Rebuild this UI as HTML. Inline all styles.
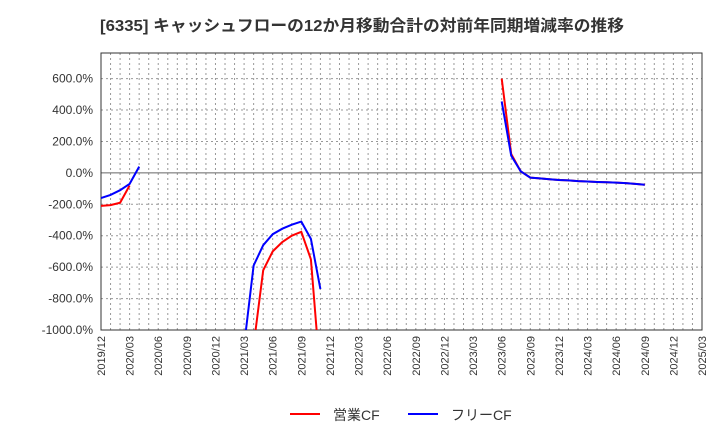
<!DOCTYPE html>
<html><head><meta charset="utf-8"><style>
body{margin:0;background:#fff;font-family:"Liberation Sans","Noto Sans CJK JP",sans-serif;}
</style></head><body>
<svg width="720" height="440" xmlns="http://www.w3.org/2000/svg">
<text x="100" y="31" font-size="16" font-weight="bold" fill="#333" textLength="524" lengthAdjust="spacingAndGlyphs" font-family="Liberation Sans, Noto Sans CJK JP, sans-serif">[6335]  キャッシュフローの12か月移動合計の対前年同期増減率の推移</text>
<g id="grid"></g><g id="axes"></g><g id="series"></g>
<g>
<line x1="290" y1="414" x2="320" y2="414" stroke="#f00" stroke-width="2"/>
<text x="333" y="420" font-size="14" fill="#333" font-family="Liberation Sans, Noto Sans CJK JP, sans-serif">営業CF</text>
<line x1="408" y1="414" x2="438" y2="414" stroke="#00f" stroke-width="2"/>
<text x="451" y="420" font-size="14" fill="#333" font-family="Liberation Sans, Noto Sans CJK JP, sans-serif">フリーCF</text>
</g>
</svg>
<script>
const yTicks=[600,400,200,0,-200,-400,-600,-800,-1000];
const xLabels=["2019/12","2020/03","2020/06","2020/09","2020/12","2021/03","2021/06","2021/09","2021/12","2022/03","2022/06","2022/09","2022/12","2023/03","2023/06","2023/09","2023/12","2024/03","2024/06","2024/09","2024/12","2025/03"];
// month index from 2019/12, value (%); null = gap
const opMonths=[0,1,2,3,null,16,17,18,19,20,21,22,23,null,42,43,44,45,46,47,48,49,50,51,52,53,54,55,56,57];
const opVals=[-210,-205,-190,-80,null,-1100,-620,-500,-440,-400,-375,-550,-1300,null,600,120,10,-30,-35,-40,-45,-48,-52,-55,-58,-60,-62,-65,-70,-75];
const fcfMonths=[0,1,2,3,4,null,15,16,17,18,19,20,21,22,23,null,42,43,44,45,46,47,48,49,50,51,52,53,54,55,56,57];
const fcfVals=[-160,-140,-110,-70,40,null,-1100,-590,-460,-390,-355,-330,-310,-420,-740,null,455,110,10,-30,-35,-40,-45,-48,-52,-55,-58,-60,-62,-65,-70,-75];
const L=101,R=702,T=53,B=330;
const ymin=-1000,ymax=763;
const sy=v=>B-(v-ymin)/(ymax-ymin)*(B-T);
const sx=m=>L+m*(R-L)/63;
const NS="http://www.w3.org/2000/svg";
function mk(tag,at,parent){const e=document.createElementNS(NS,tag);for(const k in at)e.setAttribute(k,at[k]);parent.appendChild(e);return e;}
const grid=document.getElementById('grid'),axes=document.getElementById('axes'),ser=document.getElementById('series');
for(let m=1;m<63;m++){const l=mk('line',{x1:sx(m),x2:sx(m),y1:T,y2:B,stroke:'#999','stroke-dasharray':'2,3','stroke-width':1},grid);

}
yTicks.forEach(v=>{const y=sy(v);
const g=mk('line',{x1:L,x2:R,y1:y,y2:y,stroke:v===0?'#666':'#999','stroke-dasharray':v===0?'none':'2,3','stroke-width':1},grid);


const t=mk('text',{x:L-8,y:y+4,'text-anchor':'end','font-size':12,fill:'#333','font-family':'Liberation Sans, sans-serif'},axes);
t.textContent=v.toFixed(1)+'%';

});
xLabels.forEach((s,i)=>{const x=sx(i*3);
const t=mk('text',{x:x+4,y:B+6,'text-anchor':'end','font-size':11,fill:'#333','font-family':'Liberation Sans, sans-serif',transform:`rotate(-90 ${x+4} ${B+6})`},axes);
t.textContent=s;

});
const fr=mk('rect',{x:L,y:T,width:R-L,height:B-T,fill:'none',stroke:'#333','stroke-width':1},axes);


const cp=mk('clipPath',{id:'clip'},ser);mk('rect',{x:L,y:T,width:R-L,height:B-T},cp);
function draw(ms,vs,color,name){let d='',pen=false;
ms.forEach((m,i)=>{if(m===null||vs[i]===null){pen=false;return;}d+=(pen?'L':'M')+sx(m).toFixed(1)+' '+sy(vs[i]).toFixed(1)+' ';pen=true;});
const p=mk('path',{d,fill:'none',stroke:color,'stroke-width':2,'clip-path':'url(#clip)'},ser);

}
draw(opMonths,opVals,'#f00','operating-cf-line');
draw(fcfMonths,fcfVals,'#00f','free-cf-line');
</script>
</body></html>
